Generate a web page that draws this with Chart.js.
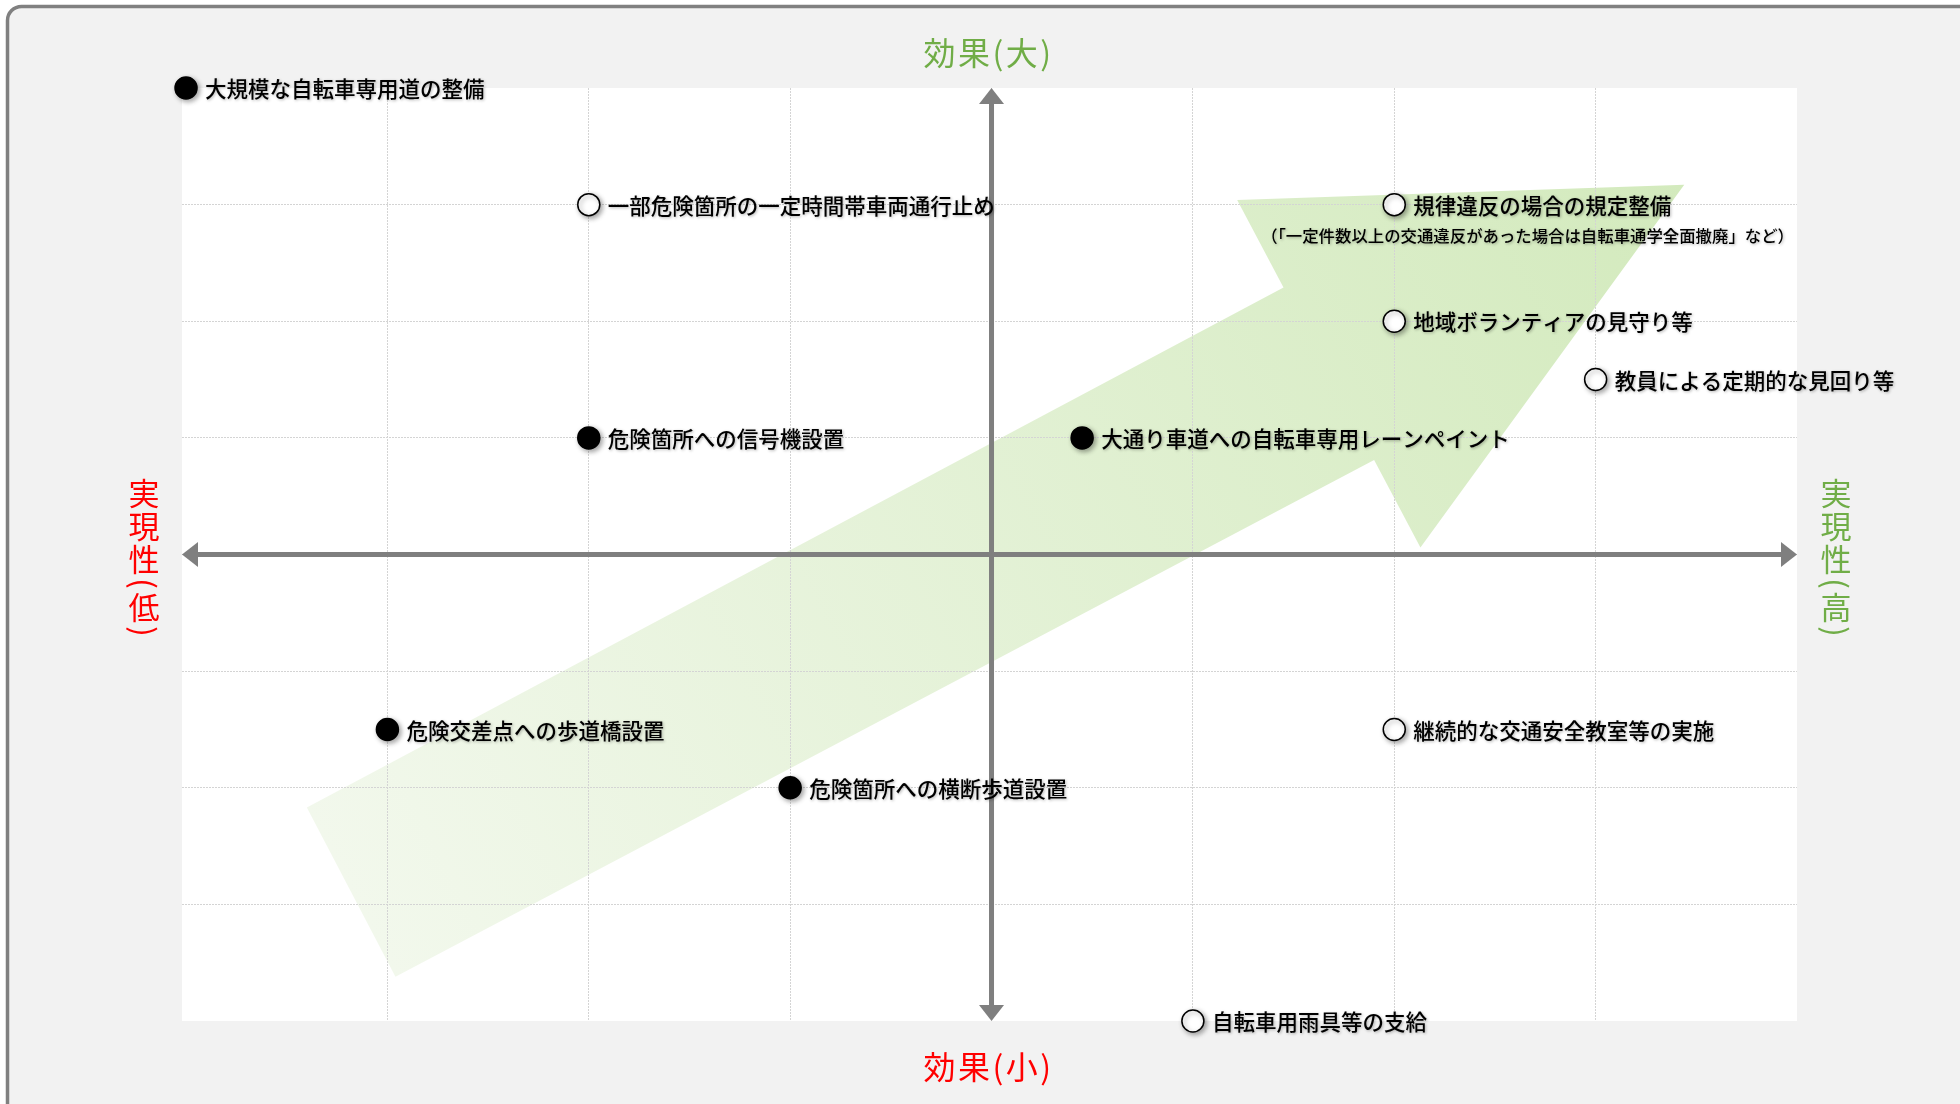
<!DOCTYPE html>
<html>
<head>
<meta charset="utf-8">
<script src="https://cdn.jsdelivr.net/npm/chart.js@4.4.1/dist/chart.umd.min.js"></script>
<style>
html,body{margin:0;padding:0;background:#fff;}
#wrap{width:1960px;height:1104px;position:relative;}
</style>
</head>
<body>
<div id="wrap"><canvas id="c" width="1960" height="1104"></canvas></div>
<script>
// ---- data ----
const itemLabels = [
  '大規模な自転車専用道の整備',
  '一部危険箇所の一定時間帯車両通行止め',
  '規律違反の場合の規定整備',
  '地域ボランティアの見守り等',
  '教員による定期的な見回り等',
  '危険箇所への信号機設置',
  '大通り車道への自転車専用レーンペイント',
  '危険交差点への歩道橋設置',
  '危険箇所への横断歩道設置',
  '継続的な交通安全教室等の実施',
  '自転車用雨具等の支給'
];
const itemNotes = ['', '', '（「一定件数以上の交通違反があった場合は自転車通学全面撤廃」など）', '', '', '', '', '', '', '', ''];
// x: 実現性 (feasibility), y: 効果 (effect)
const itemFeasibility = [-4, -2, 2, 2, 3, -2, 0.45, -3, -1, 2, 1];
const itemEffect      = [ 4,  3, 3, 2, 1.5, 1, 1, -1.5, -2, -1.5, -4];
const itemFilled      = [true, false, false, false, false, true, true, true, true, false, false];
const xMin = -4.02, xMax = 4, yMin = -4, yMax = 4, axisStep = 1;
const titleTop = '効果(大)', titleBottom = '効果(小)';
const titleLeft = '実現性(低)', titleRight = '実現性(高)';
// decorative trend arrow outline, in data units (feasibility, effect)
const trendArrowX = [-3.40, 1.45, 1.22, 3.44, 2.13, 1.90, -2.96];
const trendArrowY = [-2.17, 2.29, 3.04, 3.17, 0.06, 0.81, -3.62];

const FONT = '"Noto Sans CJK JP", "Noto Sans CJK SC", sans-serif';
const GREEN = '#70ad47', RED = '#ff0000', AXIS = '#7f7f7f';

const points = itemLabels.map((l, i) => ({x: itemFeasibility[i], y: itemEffect[i]}));

const decoPlugin = {
  id: 'deco',
  beforeDraw(chart) {
    const ctx = chart.ctx, ca = chart.chartArea;
    const sx = chart.scales.x, sy = chart.scales.y;
    ctx.save();
    ctx.fillStyle = '#ffffff';
    ctx.fillRect(0, 0, chart.width, chart.height);
    // panel
    ctx.beginPath();
    ctx.roundRect(7.5, 6.5, chart.width + 60, chart.height + 60, 14);
    ctx.fillStyle = '#f2f2f2';
    ctx.fill();
    ctx.lineWidth = 3.5;
    ctx.strokeStyle = '#808080';
    ctx.stroke();
    // plot area
    ctx.fillStyle = '#ffffff';
    ctx.fillRect(ca.left, ca.top, ca.right - ca.left, ca.bottom - ca.top);
    // trend arrow
    const px = trendArrowX.map(v => sx.getPixelForValue(v));
    const py = trendArrowY.map(v => sy.getPixelForValue(v));
    const g = ctx.createLinearGradient((px[0] + px[6]) / 2, (py[0] + py[6]) / 2, px[3], py[3]);
    g.addColorStop(0, '#f2f8ec');
    g.addColorStop(1, '#d3eabd');
    ctx.beginPath();
    ctx.moveTo(px[0], py[0]);
    for (let i = 1; i < px.length; i++) ctx.lineTo(px[i], py[i]);
    ctx.closePath();
    ctx.fillStyle = g;
    ctx.fill();
    ctx.restore();
  },
  beforeDatasetsDraw(chart) {
    const ctx = chart.ctx, ca = chart.chartArea;
    const sx = chart.scales.x, sy = chart.scales.y;
    const x0 = sx.getPixelForValue(0), y0 = sy.getPixelForValue(0);
    const xl = ca.left, xr = ca.right, yt = ca.top, yb = ca.bottom;
    const hl = 16, hw = 12.5;
    ctx.save();
    ctx.strokeStyle = AXIS; ctx.fillStyle = AXIS; ctx.lineWidth = 5;
    ctx.beginPath();
    ctx.moveTo(xl + hl, y0); ctx.lineTo(xr - hl, y0);
    ctx.moveTo(x0, yt + hl); ctx.lineTo(x0, yb - hl);
    ctx.stroke();
    const tri = (a, b, c) => { ctx.beginPath(); ctx.moveTo(...a); ctx.lineTo(...b); ctx.lineTo(...c); ctx.closePath(); ctx.fill(); };
    tri([xl, y0], [xl + hl, y0 - hw], [xl + hl, y0 + hw]);
    tri([xr, y0], [xr - hl, y0 - hw], [xr - hl, y0 + hw]);
    tri([x0, yt], [x0 - hw, yt + hl], [x0 + hw, yt + hl]);
    tri([x0, yb], [x0 - hw, yb - hl], [x0 + hw, yb - hl]);
    ctx.restore();
    // shadow for the points
    ctx.save();
    ctx.shadowColor = 'rgba(0,0,0,0.35)';
    ctx.shadowBlur = 5;
    ctx.shadowOffsetX = 2;
    ctx.shadowOffsetY = 2;
  },
  afterDatasetsDraw(chart) {
    const ctx = chart.ctx;
    ctx.restore();
    const meta = chart.getDatasetMeta(0);
    ctx.save();
    ctx.fillStyle = '#000';
    ctx.textAlign = 'left';
    ctx.textBaseline = 'middle';
    ctx.shadowColor = 'rgba(0,0,0,0.3)';
    ctx.shadowBlur = 3;
    ctx.shadowOffsetX = 1;
    ctx.shadowOffsetY = 1;
    meta.data.forEach((el, i) => {
      ctx.font = '500 21.5px ' + FONT;
      ctx.fillText(itemLabels[i], el.x + 19, el.y + 1);
      if (itemNotes[i]) {
        ctx.font = '500 16.4px ' + FONT;
        ctx.fillText(itemNotes[i], el.x - 133, el.y + 31);
      }
    });
    ctx.restore();
    // axis titles
    const ca = chart.chartArea;
    const cx = (ca.left + ca.right) / 2, cy = (ca.top + ca.bottom) / 2;
    ctx.save();
    ctx.textBaseline = 'middle';
    ctx.font = '32px ' + FONT;
    ctx.textAlign = 'center';
    ctx.letterSpacing = '2.5px';
    ctx.fillStyle = GREEN;
    ctx.fillText(titleTop, cx - 1, 53);
    ctx.fillStyle = RED;
    ctx.fillText(titleBottom, cx - 1, 1067);
    ctx.letterSpacing = '0px';
    ctx.font = '31px ' + FONT;
    const vertical = (text, x, color) => {
      ctx.fillStyle = color;
      const chars = Array.from(text);
      const isP = c => c === '(' || c === ')';
      const pos = [];
      let y = 0;
      chars.forEach((c, i) => {
        if (i > 0) y += (isP(c) || isP(chars[i - 1])) ? 24 : 33;
        pos.push(y);
      });
      const off = cy + 8 - y / 2;
      chars.forEach((c, i) => {
        const yy = off + pos[i];
        if (isP(c)) {
          ctx.save();
          ctx.translate(x, yy);
          ctx.rotate(Math.PI / 2);
          ctx.fillText(c, 0, 0);
          ctx.restore();
        } else {
          ctx.fillText(c, x, yy);
        }
      });
    };
    vertical(titleLeft, 144, RED);
    vertical(titleRight, 1836, GREEN);
    ctx.restore();
  }
};

const gridCfg = {
  color: '#d4d4d4', lineWidth: 1, drawTicks: false, tickLength: 0
};
const innerTicksOnly = scale => {
  scale.ticks = scale.ticks.filter(t => Number.isInteger(t.value) && t.value > -4 && t.value < 4);
};

new Chart(document.getElementById('c'), {
  type: 'scatter',
  data: {
    datasets: [{
      data: points,
      pointRadius: 11,
      pointHoverRadius: 11,
      pointBorderWidth: 1.5,
      pointBorderColor: '#000',
      pointBackgroundColor: itemFilled.map(f => f ? '#000' : '#fff'),
      clip: false
    }]
  },
  options: {
    responsive: false,
    animation: false,
    devicePixelRatio: 1,
    layout: { padding: { left: 182, right: 163, top: 88, bottom: 83 } },
    plugins: { legend: { display: false }, tooltip: { enabled: false } },
    scales: {
      x: {
        type: 'linear', min: xMin, max: xMax,
        afterBuildTicks: innerTicksOnly,
        ticks: { display: false, stepSize: axisStep, padding: 0 },
        grid: gridCfg,
        border: { display: false, dash: [2, 1] }
      },
      y: {
        type: 'linear', min: yMin, max: yMax,
        afterBuildTicks: innerTicksOnly,
        ticks: { display: false, stepSize: axisStep, padding: 0 },
        grid: gridCfg,
        border: { display: false, dash: [2, 1] }
      }
    }
  },
  plugins: [decoPlugin]
});
</script>
</body>
</html>
